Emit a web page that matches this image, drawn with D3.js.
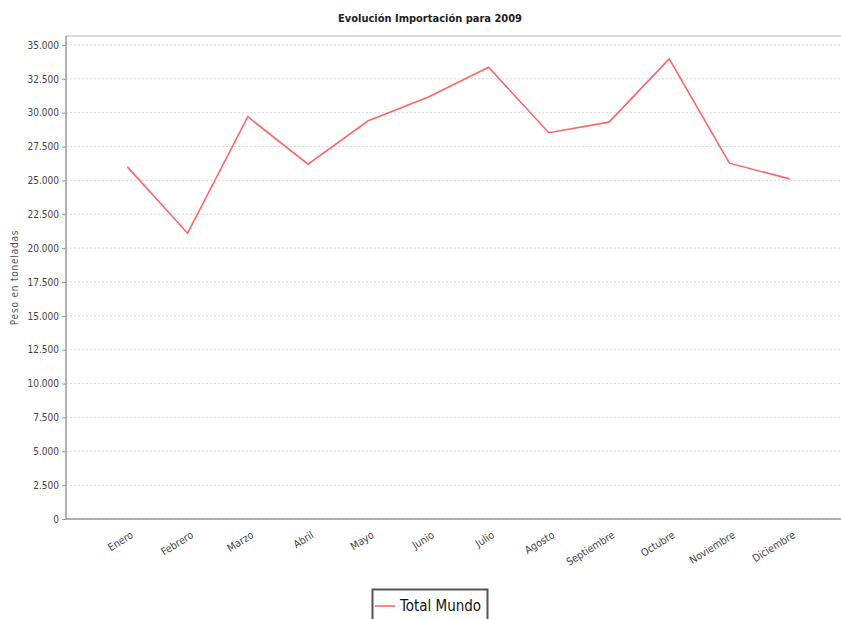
<!DOCTYPE html>
<html>
<head>
<meta charset="utf-8">
<script src="https://cdn.jsdelivr.net/npm/d3@7"></script>
<style>
    body { margin: 0; background: #fff; }
    svg { display: block; }
    text { font-family: "DejaVu Sans Condensed", "DejaVu Sans", sans-serif; }
</style>
</head>
<body>
<svg id="chart" width="841" height="619"></svg>
<script>
(function() {
    'use strict';

    var meses = ['Enero', 'Febrero', 'Marzo', 'Abril', 'Mayo', 'Junio', 'Julio',
                 'Agosto', 'Septiembre', 'Octubre', 'Noviembre', 'Diciembre'];
    var totalMundo = [26000, 21100, 29700, 26200, 29400, 31150, 33350,
                      28520, 29300, 33970, 26270, 25110];
    var yTicks = [0, 2500, 5000, 7500, 10000, 12500, 15000, 17500,
                  20000, 22500, 25000, 27500, 30000, 32500, 35000];
    var serieNombre = 'Total Mundo';
    var titulo = 'Evolución Importación para 2009';
    var ejeY = 'Peso en toneladas';

    // the original chart is a bit wider than the window and gets cut on the right
    var fullWidth = 860;
    var margin = { top: 36, left: 66, right: 9, bottom: 100 };
    var plotBottom = 519;

    var svg = d3.select('#chart');

    var locale = d3.formatLocale({ decimal: ',', thousands: '.', grouping: [3], currency: ['', ''] });
    var fmt = locale.format(',d');

    var x = d3.scalePoint()
        .domain(meses)
        .range([margin.left, fullWidth - margin.right])
        .padding(1.02);

    var y = d3.scaleLinear()
        .domain([0, 35660])
        .range([plotBottom, margin.top]);

    // grid
    svg.append('g')
        .selectAll('line')
        .data(yTicks)
        .enter().append('line')
        .attr('x1', margin.left)
        .attr('x2', fullWidth)
        .attr('y1', function(d) { return y(d); })
        .attr('y2', function(d) { return y(d); })
        .attr('stroke', '#d8d8d8')
        .attr('stroke-width', 1)
        .attr('stroke-dasharray', '2,2');

    // plot outline top
    svg.append('line')
        .attr('x1', margin.left).attr('x2', fullWidth)
        .attr('y1', margin.top).attr('y2', margin.top)
        .attr('stroke', '#b4b4b4')
        .attr('stroke-width', 1.2);

    // y axis
    var yAxis = svg.append('g')
        .attr('transform', 'translate(' + margin.left + ',0)')
        .call(d3.axisLeft(y).tickValues(yTicks).tickFormat(fmt).tickSize(4).tickPadding(3));
    yAxis.select('.domain').remove();
    yAxis.selectAll('.tick line').attr('stroke', '#999');
    yAxis.selectAll('text').attr('font-size', '10px').attr('fill', '#444');

    svg.append('line')
        .attr('x1', margin.left).attr('x2', margin.left)
        .attr('y1', margin.top).attr('y2', plotBottom)
        .attr('stroke', '#999')
        .attr('stroke-width', 1.5);

    // x axis
    var xAxis = svg.append('g')
        .attr('transform', 'translate(0,' + plotBottom + ')')
        .call(d3.axisBottom(x).tickSize(0).tickPadding(0));
    xAxis.select('.domain').remove();
    xAxis.selectAll('text')
        .attr('font-size', '10.5px')
        .attr('fill', '#444')
        .attr('text-anchor', 'end')
        .attr('dy', 0)
        .attr('transform', 'translate(6,18) rotate(-32)');

    svg.append('line')
        .attr('x1', margin.left).attr('x2', fullWidth)
        .attr('y1', plotBottom).attr('y2', plotBottom)
        .attr('stroke', '#999')
        .attr('stroke-width', 1.5);

    // series
    var line = d3.line()
        .x(function(d, i) { return x(meses[i]); })
        .y(function(d) { return y(d); });

    svg.append('path')
        .datum(totalMundo)
        .attr('d', line)
        .attr('fill', 'none')
        .attr('stroke', '#ff6666')
        .attr('stroke-width', 1.6);

    // title
    svg.append('text')
        .attr('x', fullWidth / 2)
        .attr('y', 22)
        .attr('text-anchor', 'middle')
        .attr('font-size', '11px')
        .attr('font-weight', 'bold')
        .attr('fill', '#222')
        .text(titulo);

    // y label
    svg.append('text')
        .attr('transform', 'translate(18,' + ((margin.top + plotBottom) / 2) + ') rotate(-90)')
        .attr('text-anchor', 'middle')
        .attr('font-size', '10px')
        .attr('letter-spacing', '0.8px')
        .attr('fill', '#555')
        .text(ejeY);

    // legend
    var legend = svg.append('g')
        .attr('transform', 'translate(' + (fullWidth / 2) + ',0)');
    legend.append('rect')
        .attr('x', -57.5).attr('y', 589.5)
        .attr('width', 115).attr('height', 34)
        .attr('fill', '#fff')
        .attr('stroke', '#555')
        .attr('stroke-width', 2);
    legend.append('line')
        .attr('x1', -55).attr('x2', -35)
        .attr('y1', 606).attr('y2', 606)
        .attr('stroke', '#ff6666')
        .attr('stroke-width', 1.6);
    legend.append('text')
        .attr('x', -30).attr('y', 611)
        .attr('font-size', '15px')
        .attr('fill', '#111')
        .text(serieNombre);
}());
</script>
</body>
</html>
